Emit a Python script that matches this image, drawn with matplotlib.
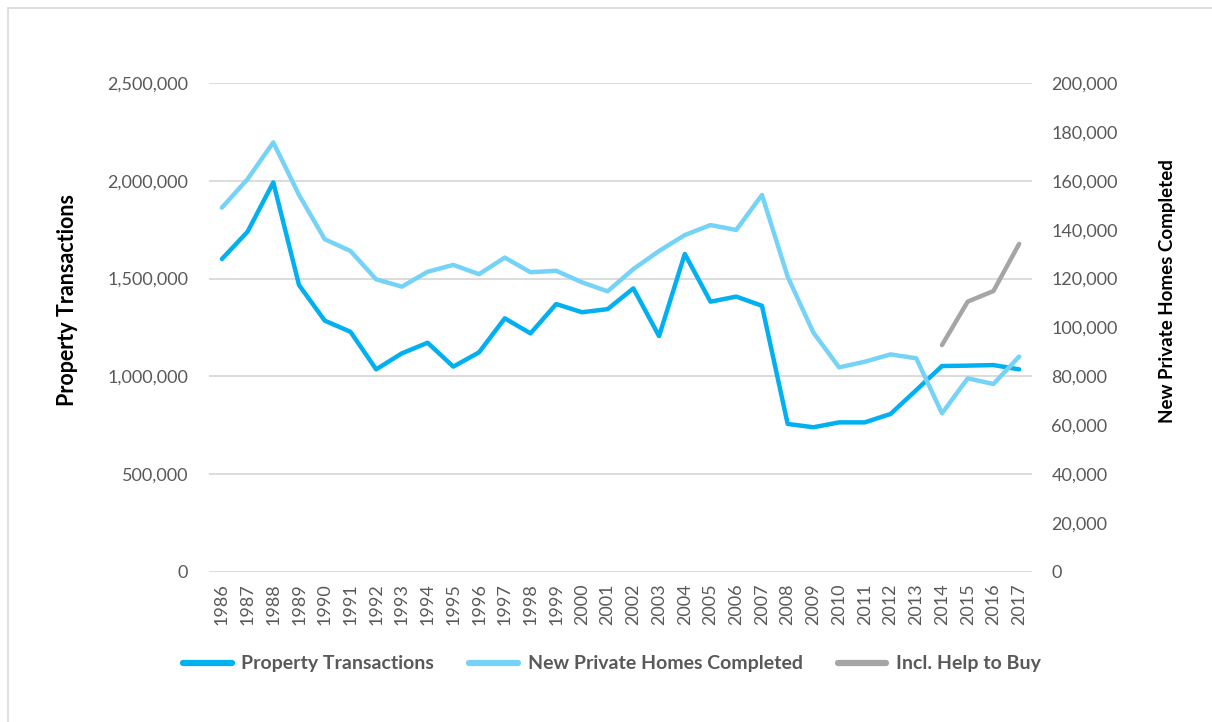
import matplotlib
matplotlib.use("Agg")
import matplotlib.pyplot as plt
from matplotlib.patches import Rectangle

plt.rcParams['font.family'] = ['Lato', 'DejaVu Sans']

years = list(range(1986, 2018))
property_transactions = [1600000, 1740000, 1992000, 1467000, 1285000, 1228000, 1036000, 1118000,
                         1172000, 1050000, 1123000, 1297000, 1220000, 1370000, 1328000, 1344000,
                         1450000, 1206000, 1626000, 1382000, 1408000, 1361000, 757000, 740000,
                         765000, 765000, 808000, 930000, 1053000, 1055000, 1058000, 1036000]
new_private_homes = [149000, 160700, 175700, 154200, 136100, 131300, 119700, 116700,
                     122800, 125600, 121800, 128600, 122600, 123200, 118500, 114800,
                     123900, 131300, 137800, 141900, 139900, 154200, 120800, 97900,
                     83700, 86000, 89000, 87400, 64900, 79200, 76900, 88100]
help_years = [2014, 2015, 2016, 2017]
incl_help_to_buy = [92800, 110600, 114900, 134200]

left_ticks = [0, 500000, 1000000, 1500000, 2000000, 2500000]
right_ticks = list(range(0, 200001, 20000))

C_PT = '#00B0F0'
C_NP = '#75D3F7'
C_HB = '#A5A5A5'
TXT = '#595959'

W, H = 1212, 722
fig = plt.figure(figsize=(W / 100, H / 100), dpi=100)
fig.patches.append(Rectangle((8 / W, -0.1), 1.2, 1.1 - 8 / H, transform=fig.transFigure,
                             fill=False, edgecolor='#D9D9D9', linewidth=1.2))

ax = fig.add_axes([209 / W, 150 / H, (1032 - 209) / W, (572 - 83) / H])
ax2 = ax.twinx()

ax.set_xlim(1985.5, 2017.5)
ax.set_ylim(0, 2500000)
ax2.set_ylim(0, 200000)

ax.set_yticks(left_ticks)
ax.set_yticklabels([f"{v:,}" for v in left_ticks])
ax2.set_yticks(right_ticks)
ax2.set_yticklabels([f"{v:,}" for v in right_ticks])
ax.set_xticks(years)
ax.set_xticklabels([str(y) for y in years], rotation=90)

ax.grid(axis='y', color='#D9D9D9', linewidth=1.3)
ax.set_axisbelow(True)
for a in (ax, ax2):
    for s in a.spines.values():
        s.set_visible(False)
ax.tick_params(axis='y', length=0, pad=15, labelsize=13, labelcolor=TXT)
ax2.tick_params(axis='y', length=0, pad=14, labelsize=13, labelcolor=TXT)
ax.tick_params(axis='x', length=0, pad=8, labelsize=13, labelcolor=TXT)

l1, = ax.plot(years, property_transactions, color=C_PT, linewidth=3.2, solid_capstyle='round',
              solid_joinstyle='round', zorder=3)
l2, = ax2.plot(years, new_private_homes, color=C_NP, linewidth=3.2, solid_capstyle='round',
               solid_joinstyle='round', zorder=2)
l3, = ax2.plot(help_years, incl_help_to_buy, color=C_HB, linewidth=3.2, solid_capstyle='round',
               solid_joinstyle='round', zorder=2)

fig.text(67 / W, 1 - 300 / H, 'Property Transactions', rotation=90, ha='center', va='center',
         fontsize=15.5, fontweight='bold', color='black')
fig.text(1167 / W, 1 - 291 / H, 'New Private Homes Completed', rotation=90, ha='center', va='center',
         fontsize=13.5, fontweight='bold', color='black')

leg = fig.legend([l1, l2, l3], ['Property Transactions', 'New Private Homes Completed', 'Incl. Help to Buy'],
                 loc='center', bbox_to_anchor=(612 / W, 1 - 664 / H), ncol=3, frameon=False,
                 handlelength=2.5, handletextpad=0.5, columnspacing=1.8,
                 prop={'size': 14, 'weight': 'bold'})
for t in leg.get_texts():
    t.set_color(TXT)
for h in leg.legend_handles:
    h.set_linewidth(4.5)

fig.savefig('out.png', dpi=100)
